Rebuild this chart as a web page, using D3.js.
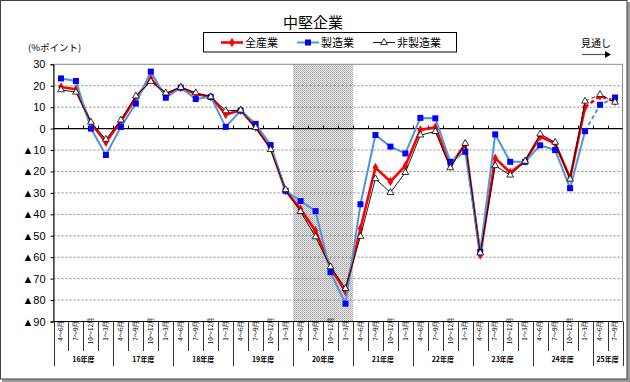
<!DOCTYPE html>
<html><head><meta charset="utf-8">
<script src="https://cdn.jsdelivr.net/npm/d3@7"></script>
<style>
body{margin:0;background:#fff;}
svg{display:block;}
text{font-family:"Liberation Sans","Noto Sans CJK JP",Arial,sans-serif;}
.jp{font-family:"Noto Sans CJK JP","Liberation Sans",sans-serif;}
</style></head>
<body><svg id="c" width="630" height="382"></svg>
<script>
const quarterLabels = [
 "4～6月","7～9月","10～12月","1～3月",
 "4～6月","7～9月","10～12月","1～3月",
 "4～6月","7～9月","10～12月","1～3月",
 "4～6月","7～9月","10～12月","1～3月",
 "4～6月","7～9月","10～12月","1～3月",
 "4～6月","7～9月","10～12月","1～3月",
 "4～6月","7～9月","10～12月","1～3月",
 "4～6月","7～9月","10～12月","1～3月",
 "4～6月","7～9月","10～12月","1～3月",
 "4～6月","7～9月"];
const yearLabels = ["16年度","17年度","18年度","19年度","20年度","21年度","22年度","23年度","24年度","25年度"];
const yearSpans = [4,4,4,4,4,4,4,4,4,2];
const allIndustries = [19.4,18.4,2.5,-6.4,3.4,14.4,23.3,16,19.2,16.1,14.8,6.6,8.6,0.6,-8.8,-29,-37.6,-47.7,-64.8,-76,-46.6,-18.2,-24.7,-17.3,-0.6,0.6,-17.3,-7.2,-59,-13.8,-20.5,-15.2,-3.7,-7,-23,10,15.2,12.7];
const manufacturing = [23.4,22.2,0,-12.3,0.8,11.7,26.6,14.4,19.1,13.8,14.8,0.8,8.4,2.2,-7.7,-29,-33.8,-38.5,-67,-81.7,-35.3,-3,-8.4,-11.6,5,4.8,-15.5,-10.8,-57.5,-2.7,-15.5,-15.5,-7.8,-10,-27.8,-1.2,11.1,14.5];
const nonManufacturing = [18.1,17,3,-5,4,15.2,22,16.6,19.2,16.7,14.8,8.3,8.6,0.5,-9.8,-28.5,-38.7,-50.5,-64.5,-74.6,-50.3,-23.4,-29.8,-20.5,-3,-1.4,-18.3,-6.9,-58,-17.3,-21.7,-15.2,-2.5,-6.4,-23.6,12.8,15.9,12.3];
const seriesNames = ["全産業","製造業","非製造業"];
const yTicks = [30,20,10,0,-10,-20,-30,-40,-50,-60,-70,-80,-90];
const shadedYear = "20年度";
const forecastStart = 35; // segments after this index are dashed

const svg = d3.select("#c");
const L = 53.5, R = 622.5, T = 64.3, B = 321.5;
const idx = d3.range(quarterLabels.length);
const x = d3.scaleBand().domain(idx).range([L, R]).padding(0);
const y = d3.scaleLinear().domain([-90, 30]).range([B, T]);

// outer frame
svg.append("rect").attr("x",627).attr("y",2).attr("width",3).attr("height",380).attr("fill","#9a9a9a");
svg.append("rect").attr("x",2).attr("y",379).attr("width",628).attr("height",3).attr("fill","#9a9a9a");
svg.append("rect").attr("x",0.5).attr("y",0.5).attr("width",626.5).attr("height",378.5).attr("fill","#fff").attr("stroke","#404040");

// pattern for shading
const defs = svg.append("defs");
const pat = defs.append("pattern").attr("id","dots").attr("width",2).attr("height",2).attr("patternUnits","userSpaceOnUse");
pat.append("rect").attr("width",2).attr("height",2).attr("fill","#e6e6e6");
pat.append("rect").attr("width",1).attr("height",1).attr("fill","#a8a8a8");
pat.append("rect").attr("x",1).attr("y",1).attr("width",1).attr("height",1).attr("fill","#bdbdbd");

// year start indices
const yearStarts = [];
{ let s = 0; yearSpans.forEach(n => { yearStarts.push(s); s += n; }); }
const si = yearLabels.indexOf(shadedYear);
svg.append("rect")
  .attr("x", x(yearStarts[si])).attr("y", T)
  .attr("width", x.bandwidth()*yearSpans[si]).attr("height", B - T)
  .attr("fill","url(#dots)");

// gridlines
svg.append("g").selectAll("line").data(yTicks.filter(v => v !== 0 && v !== -90 && v !== 30)).join("line")
  .attr("x1", L).attr("x2", R).attr("y1", d => y(d)).attr("y2", d => y(d))
  .attr("stroke","#8a8a8a").attr("stroke-width",1).attr("stroke-dasharray","2,2");

// plot border
svg.append("rect").attr("x",L).attr("y",T).attr("width",R-L).attr("height",B-T)
  .attr("fill","none").attr("stroke","#8a8a8a").attr("stroke-width",1);

// y axis
const yAxis = d3.axisLeft(y).tickValues(yTicks).tickSize(3).tickPadding(5)
  .tickFormat(d => d < 0 ? "▲" + Math.abs(d) : String(d));
const ya = svg.append("g").attr("transform", `translate(${L},0)`).call(yAxis);
ya.select(".domain").attr("stroke","#000");
ya.selectAll(".tick line").attr("stroke","#000");
ya.selectAll("text").attr("font-size","11px").attr("fill","#000")
  .attr("font-family","'Liberation Sans','Noto Sans CJK JP',sans-serif");

// zero line with small ticks
svg.append("line").attr("x1",L).attr("x2",R).attr("y1",y(0)).attr("y2",y(0)).attr("stroke","#000").attr("stroke-width",1.3);
svg.append("g").selectAll("line").data(idx.slice(1)).join("line")
  .attr("x1", d => Math.round(x(d))+0.5).attr("x2", d => Math.round(x(d))+0.5)
  .attr("y1", y(0)).attr("y2", y(0)-3).attr("stroke","#000");

// category label boxes
svg.append("line").attr("x1",L).attr("x2",R).attr("y1",B).attr("y2",B).attr("stroke","#000");
const isYearStart = new Set(yearStarts);
svg.append("g").selectAll("line").data(idx.concat([idx.length])).join("line")
  .attr("x1", d => Math.round(d < idx.length ? x(d) : R)+0.5)
  .attr("x2", d => Math.round(d < idx.length ? x(d) : R)+0.5)
  .attr("y1", B).attr("y2", d => (isYearStart.has(d) || d === idx.length) ? 366 : 351)
  .attr("stroke","#000").attr("stroke-width",0.8);
svg.append("g").selectAll("text").data(idx).join("text")
  .attr("class","jp")
  .attr("transform", d => `translate(${x(d)+x.bandwidth()/2+2.2},${331}) rotate(-90)`)
  .attr("text-anchor","middle").attr("font-size","6.3px").attr("fill","#000")
  .text(d => quarterLabels[d]);
svg.append("g").selectAll("text").data(yearLabels).join("text")
  .attr("class","jp")
  .attr("x", (d,i) => x(yearStarts[i]) + x.bandwidth()*yearSpans[i]/2)
  .attr("y", 362).attr("text-anchor","middle").attr("font-size","7px").attr("font-weight","bold").attr("fill","#000")
  .text(d => d);

// series
const series = [
  {name: seriesNames[0], data: allIndustries, color:"#ff0000", width:2.6, marker:"diamond"},
  {name: seriesNames[1], data: manufacturing, color:"#4f94dc", width:2, marker:"square"},
  {name: seriesNames[2], data: nonManufacturing, color:"#000", width:0.9, marker:"triangle"}
];
const cx = i => x(i) + x.bandwidth()/2;
const line = d3.line().x(d => cx(d.i)).y(d => y(d.v));
function markerInto(g, s, pts, px, py){
  if (s.marker === "diamond") {
    g.selectAll("path.m").data(pts).join("path").attr("class","m")
      .attr("d", d3.symbol(d3.symbolDiamond, 26)())
      .attr("transform", d => `translate(${px(d)},${py(d)})`)
      .attr("fill","#ff0000");
  } else if (s.marker === "square") {
    g.selectAll("rect.m").data(pts).join("rect").attr("class","m")
      .attr("x", d => px(d)-3).attr("y", d => py(d)-3).attr("width",6).attr("height",6)
      .attr("fill","#0000ff");
  } else {
    g.selectAll("path.m").data(pts).join("path").attr("class","m")
      .attr("d", d3.symbol(d3.symbolTriangle, 20)())
      .attr("transform", d => `translate(${px(d)},${py(d)})`)
      .attr("fill","#fff").attr("stroke","#000").attr("stroke-width",0.8);
  }
}
series.forEach(s => {
  const pts = s.data.map((v,i) => ({i, v}));
  const g = svg.append("g");
  g.append("path").datum(pts.slice(0, forecastStart+1)).attr("d", line)
    .attr("fill","none").attr("stroke", s.color).attr("stroke-width", s.width).attr("stroke-linejoin","round");
  g.append("path").datum(pts.slice(forecastStart)).attr("d", line)
    .attr("fill","none").attr("stroke", s.color).attr("stroke-width", s.width).attr("stroke-dasharray","4,3");
  markerInto(g, s, pts, d => cx(d.i), d => y(d.v));
});

// title
svg.append("text").attr("class","jp").attr("x",313).attr("y",28).attr("text-anchor","middle")
  .attr("font-size","15px").attr("fill","#000").text("中堅企業");
// unit
svg.append("text").attr("class","jp").attr("x",28).attr("y",51).attr("font-size","9.5px").attr("fill","#000").text("(%ポイント)");
// forecast label and arrow
svg.append("text").attr("class","jp").attr("x",596).attr("y",47).attr("text-anchor","middle").attr("font-size","10px").attr("fill","#000").text("見通し");
svg.append("line").attr("x1",582).attr("x2",606).attr("y1",54.5).attr("y2",54.5).attr("stroke","#555").attr("stroke-width",1.2);
svg.append("path").attr("d","M605,51 L611,54.5 L605,58 Z").attr("fill","#000");

// legend
const lg = svg.append("g");
lg.append("rect").attr("x",203.5).attr("y",32.5).attr("width",253).attr("height",19.5)
  .attr("fill","#fff").attr("stroke","#000").attr("stroke-width",1);
const lx = [221, 297, 373];
series.forEach((s,k) => {
  const g = lg.append("g");
  g.append("line").attr("x1",lx[k]).attr("x2",lx[k]+22).attr("y1",42.5).attr("y2",42.5)
    .attr("stroke", s.color).attr("stroke-width", s.width);
  markerInto(g, s, [0], () => lx[k]+11, () => 42.5);
  g.append("text").attr("class","jp").attr("x",lx[k]+24).attr("y",46.5).attr("font-size","11px").attr("fill","#000").text(s.name);
});
</script></body></html>
